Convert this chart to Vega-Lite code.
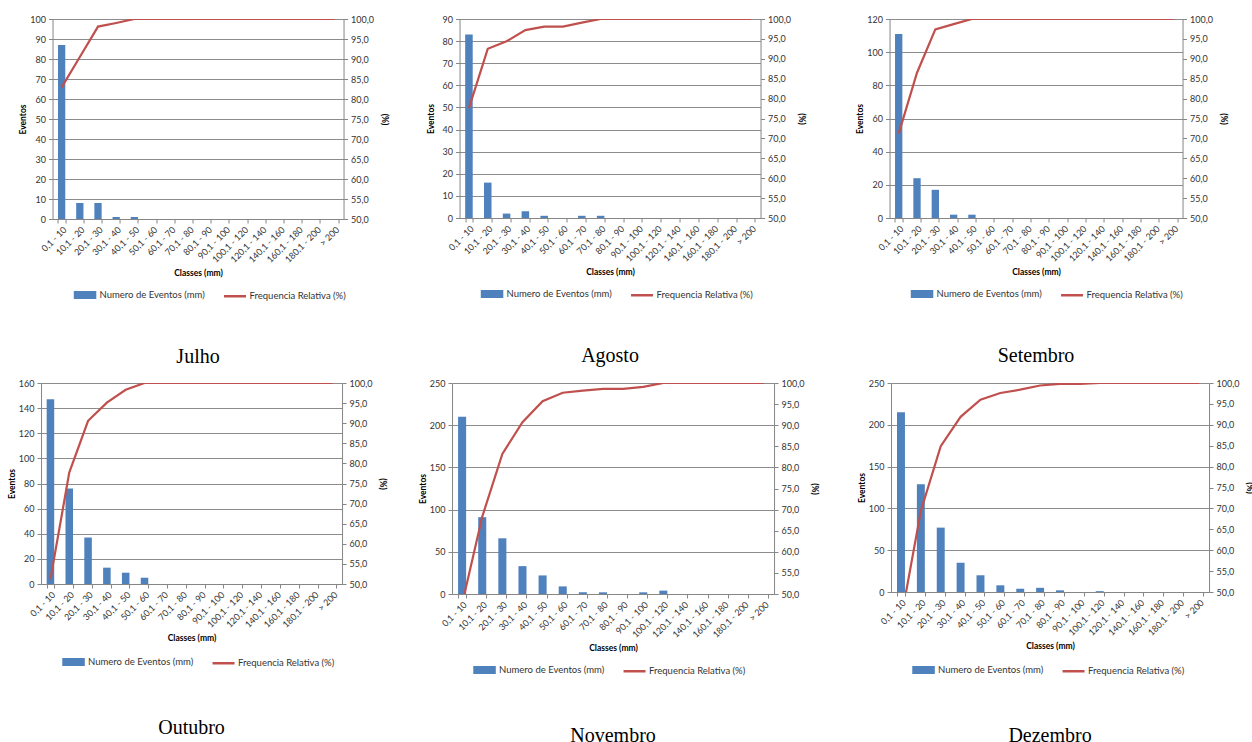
{
"$schema": "https://vega.github.io/schema/vega-lite/v6.json",
"padding": {"left": 7, "top": 15, "right": 0, "bottom": 0},
"background": "white",
"data": {"values": [
{"mes":"Julho","classe":"0,1 - 10","eventos":87,"freq":82.9},
{"mes":"Julho","classe":"10,1 - 20","eventos":8,"freq":90.5},
{"mes":"Julho","classe":"20,1 - 30","eventos":8,"freq":98.1},
{"mes":"Julho","classe":"30,1 - 40","eventos":1,"freq":99.0},
{"mes":"Julho","classe":"40,1 - 50","eventos":1,"freq":100},
{"mes":"Julho","classe":"50,1 - 60","eventos":0,"freq":100},
{"mes":"Julho","classe":"60,1 - 70","eventos":0,"freq":100},
{"mes":"Julho","classe":"70,1 - 80","eventos":0,"freq":100},
{"mes":"Julho","classe":"80,1 - 90","eventos":0,"freq":100},
{"mes":"Julho","classe":"90,1 - 100","eventos":0,"freq":100},
{"mes":"Julho","classe":"100,1 - 120","eventos":0,"freq":100},
{"mes":"Julho","classe":"120,1 - 140","eventos":0,"freq":100},
{"mes":"Julho","classe":"140,1 - 160","eventos":0,"freq":100},
{"mes":"Julho","classe":"160,1 - 180","eventos":0,"freq":100},
{"mes":"Julho","classe":"180,1 - 200","eventos":0,"freq":100},
{"mes":"Julho","classe":"> 200","eventos":0,"freq":100},
{"mes":"Agosto","classe":"0,1 - 10","eventos":83,"freq":77.6},
{"mes":"Agosto","classe":"10,1 - 20","eventos":16,"freq":92.5},
{"mes":"Agosto","classe":"20,1 - 30","eventos":2,"freq":94.4},
{"mes":"Agosto","classe":"30,1 - 40","eventos":3,"freq":97.2},
{"mes":"Agosto","classe":"40,1 - 50","eventos":1,"freq":98.1},
{"mes":"Agosto","classe":"50,1 - 60","eventos":0,"freq":98.1},
{"mes":"Agosto","classe":"60,1 - 70","eventos":1,"freq":99.1},
{"mes":"Agosto","classe":"70,1 - 80","eventos":1,"freq":100},
{"mes":"Agosto","classe":"80,1 - 90","eventos":0,"freq":100},
{"mes":"Agosto","classe":"90,1 - 100","eventos":0,"freq":100},
{"mes":"Agosto","classe":"100,1 - 120","eventos":0,"freq":100},
{"mes":"Agosto","classe":"120,1 - 140","eventos":0,"freq":100},
{"mes":"Agosto","classe":"140,1 - 160","eventos":0,"freq":100},
{"mes":"Agosto","classe":"160,1 - 180","eventos":0,"freq":100},
{"mes":"Agosto","classe":"180,1 - 200","eventos":0,"freq":100},
{"mes":"Agosto","classe":"> 200","eventos":0,"freq":100},
{"mes":"Setembro","classe":"0,1 - 10","eventos":111,"freq":71.2},
{"mes":"Setembro","classe":"10,1 - 20","eventos":24,"freq":86.5},
{"mes":"Setembro","classe":"20,1 - 30","eventos":17,"freq":97.4},
{"mes":"Setembro","classe":"30,1 - 40","eventos":2,"freq":98.7},
{"mes":"Setembro","classe":"40,1 - 50","eventos":2,"freq":100},
{"mes":"Setembro","classe":"50,1 - 60","eventos":0,"freq":100},
{"mes":"Setembro","classe":"60,1 - 70","eventos":0,"freq":100},
{"mes":"Setembro","classe":"70,1 - 80","eventos":0,"freq":100},
{"mes":"Setembro","classe":"80,1 - 90","eventos":0,"freq":100},
{"mes":"Setembro","classe":"90,1 - 100","eventos":0,"freq":100},
{"mes":"Setembro","classe":"100,1 - 120","eventos":0,"freq":100},
{"mes":"Setembro","classe":"120,1 - 140","eventos":0,"freq":100},
{"mes":"Setembro","classe":"140,1 - 160","eventos":0,"freq":100},
{"mes":"Setembro","classe":"160,1 - 180","eventos":0,"freq":100},
{"mes":"Setembro","classe":"180,1 - 200","eventos":0,"freq":100},
{"mes":"Setembro","classe":"> 200","eventos":0,"freq":100},
{"mes":"Outubro","classe":"0,1 - 10","eventos":147,"freq":51.2},
{"mes":"Outubro","classe":"10,1 - 20","eventos":76,"freq":77.7},
{"mes":"Outubro","classe":"20,1 - 30","eventos":37,"freq":90.6},
{"mes":"Outubro","classe":"30,1 - 40","eventos":13,"freq":95.1},
{"mes":"Outubro","classe":"40,1 - 50","eventos":9,"freq":98.3},
{"mes":"Outubro","classe":"50,1 - 60","eventos":5,"freq":100},
{"mes":"Outubro","classe":"60,1 - 70","eventos":0,"freq":100},
{"mes":"Outubro","classe":"70,1 - 80","eventos":0,"freq":100},
{"mes":"Outubro","classe":"80,1 - 90","eventos":0,"freq":100},
{"mes":"Outubro","classe":"90,1 - 100","eventos":0,"freq":100},
{"mes":"Outubro","classe":"100,1 - 120","eventos":0,"freq":100},
{"mes":"Outubro","classe":"120,1 - 140","eventos":0,"freq":100},
{"mes":"Outubro","classe":"140,1 - 160","eventos":0,"freq":100},
{"mes":"Outubro","classe":"160,1 - 180","eventos":0,"freq":100},
{"mes":"Outubro","classe":"180,1 - 200","eventos":0,"freq":100},
{"mes":"Outubro","classe":"> 200","eventos":0,"freq":100},
{"mes":"Novembro","classe":"0,1 - 10","eventos":210,"freq":47.6},
{"mes":"Novembro","classe":"10,1 - 20","eventos":91,"freq":68.3},
{"mes":"Novembro","classe":"20,1 - 30","eventos":66,"freq":83.2},
{"mes":"Novembro","classe":"30,1 - 40","eventos":33,"freq":90.7},
{"mes":"Novembro","classe":"40,1 - 50","eventos":22,"freq":95.7},
{"mes":"Novembro","classe":"50,1 - 60","eventos":9,"freq":97.7},
{"mes":"Novembro","classe":"60,1 - 70","eventos":2,"freq":98.2},
{"mes":"Novembro","classe":"70,1 - 80","eventos":2,"freq":98.6},
{"mes":"Novembro","classe":"80,1 - 90","eventos":0,"freq":98.6},
{"mes":"Novembro","classe":"90,1 - 100","eventos":2,"freq":99.1},
{"mes":"Novembro","classe":"100,1 - 120","eventos":4,"freq":100},
{"mes":"Novembro","classe":"120,1 - 140","eventos":0,"freq":100},
{"mes":"Novembro","classe":"140,1 - 160","eventos":0,"freq":100},
{"mes":"Novembro","classe":"160,1 - 180","eventos":0,"freq":100},
{"mes":"Novembro","classe":"180,1 - 200","eventos":0,"freq":100},
{"mes":"Novembro","classe":"> 200","eventos":0,"freq":100},
{"mes":"Dezembro","classe":"0,1 - 10","eventos":215,"freq":43.3},
{"mes":"Dezembro","classe":"10,1 - 20","eventos":129,"freq":69.4},
{"mes":"Dezembro","classe":"20,1 - 30","eventos":77,"freq":84.9},
{"mes":"Dezembro","classe":"30,1 - 40","eventos":35,"freq":91.9},
{"mes":"Dezembro","classe":"40,1 - 50","eventos":20,"freq":96.0},
{"mes":"Dezembro","classe":"50,1 - 60","eventos":8,"freq":97.6},
{"mes":"Dezembro","classe":"60,1 - 70","eventos":4,"freq":98.4},
{"mes":"Dezembro","classe":"70,1 - 80","eventos":5,"freq":99.4},
{"mes":"Dezembro","classe":"80,1 - 90","eventos":2,"freq":99.8},
{"mes":"Dezembro","classe":"90,1 - 100","eventos":0,"freq":99.8},
{"mes":"Dezembro","classe":"100,1 - 120","eventos":1,"freq":100},
{"mes":"Dezembro","classe":"120,1 - 140","eventos":0,"freq":100},
{"mes":"Dezembro","classe":"140,1 - 160","eventos":0,"freq":100},
{"mes":"Dezembro","classe":"160,1 - 180","eventos":0,"freq":100},
{"mes":"Dezembro","classe":"180,1 - 200","eventos":0,"freq":100},
{"mes":"Dezembro","classe":"> 200","eventos":0,"freq":100}
]},
"vconcat": [
{"hconcat": [
{"width": 291, "height": 200, "title": {"text": "Julho"},
 "transform": [{"filter": "datum.mes == 'Julho'"}],
 "layer": [
  {"mark": {"type": "bar"},
   "encoding": {
    "x": {"field": "classe", "type": "nominal", "sort": null, "scale": {"paddingInner": 0.6, "paddingOuter": 0.3}, "axis": {"title": "Classes (mm)"}},
    "y": {"field": "eventos", "type": "quantitative", "scale": {"domain": [0, 100], "nice": false}, "axis": {"title": "Eventos", "values": [0,10,20,30,40,50,60,70,80,90,100], "grid": true}},
    "color": {"datum": "Numero de Eventos (mm)", "scale": {"domain": ["Numero de Eventos (mm)", "Frequencia Relativa (%)"], "range": ["#4f81bd", "#c0504d"]},
     "legend": {"direction": "horizontal", "columnPadding": 13, "symbolSize": 484, "padding": 20, "offset": -15,
      "encode": {"symbols": {"update": {
        "shape": {"signal": "datum.value === 'Numero de Eventos (mm)' ? 'M-0.91,-0.25H0.91V0.25H-0.91Z' : 'stroke'"},
        "fill": {"signal": "datum.value === 'Numero de Eventos (mm)' ? '#4f81bd' : 'transparent'"},
        "stroke": {"signal": "datum.value === 'Numero de Eventos (mm)' ? 'transparent' : '#c0504d'"},
        "strokeWidth": {"value": 2.5}, "opacity": {"value": 1}}}}}}}},
  {"mark": {"type": "line", "clip": true},
   "encoding": {
    "x": {"field": "classe", "type": "nominal", "sort": null},
    "y": {"field": "freq", "type": "quantitative", "scale": {"domain": [50, 100], "nice": false}, "axis": {"title": "(%)", "orient": "right", "grid": false, "values": [50,55,60,65,70,75,80,85,90,95,100], "labelExpr": "replace(format(datum.value, '.1f'), '.', ',')"}},
    "color": {"datum": "Frequencia Relativa (%)"}}}
 ],
 "resolve": {"scale": {"y": "independent"}}},
{"hconcat": [
{"width": 301, "height": 199, "title": {"text": "Agosto"},
 "transform": [{"filter": "datum.mes == 'Agosto'"}],
 "layer": [
  {"mark": {"type": "bar"},
   "encoding": {
    "x": {"field": "classe", "type": "nominal", "sort": null, "scale": {"paddingInner": 0.6, "paddingOuter": 0.3}, "axis": {"title": "Classes (mm)"}},
    "y": {"field": "eventos", "type": "quantitative", "scale": {"domain": [0, 90], "nice": false}, "axis": {"title": "Eventos", "values": [0,10,20,30,40,50,60,70,80,90], "grid": true}},
    "color": {"datum": "Numero de Eventos (mm)", "scale": {"domain": ["Numero de Eventos (mm)", "Frequencia Relativa (%)"], "range": ["#4f81bd", "#c0504d"]},
     "legend": {"direction": "horizontal", "columnPadding": 13, "symbolSize": 484, "padding": 20, "offset": -15,
      "encode": {"symbols": {"update": {
        "shape": {"signal": "datum.value === 'Numero de Eventos (mm)' ? 'M-0.91,-0.25H0.91V0.25H-0.91Z' : 'stroke'"},
        "fill": {"signal": "datum.value === 'Numero de Eventos (mm)' ? '#4f81bd' : 'transparent'"},
        "stroke": {"signal": "datum.value === 'Numero de Eventos (mm)' ? 'transparent' : '#c0504d'"},
        "strokeWidth": {"value": 2.5}, "opacity": {"value": 1}}}}}}}},
  {"mark": {"type": "line", "clip": true},
   "encoding": {
    "x": {"field": "classe", "type": "nominal", "sort": null},
    "y": {"field": "freq", "type": "quantitative", "scale": {"domain": [50, 100], "nice": false}, "axis": {"title": "(%)", "orient": "right", "grid": false, "values": [50,55,60,65,70,75,80,85,90,95,100], "labelExpr": "replace(format(datum.value, '.1f'), '.', ',')"}},
    "color": {"datum": "Frequencia Relativa (%)"}}}
 ],
 "resolve": {"scale": {"y": "independent"}}},
{"width": 293, "height": 199, "title": {"text": "Setembro"},
 "transform": [{"filter": "datum.mes == 'Setembro'"}],
 "layer": [
  {"mark": {"type": "bar"},
   "encoding": {
    "x": {"field": "classe", "type": "nominal", "sort": null, "scale": {"paddingInner": 0.6, "paddingOuter": 0.3}, "axis": {"title": "Classes (mm)"}},
    "y": {"field": "eventos", "type": "quantitative", "scale": {"domain": [0, 120], "nice": false}, "axis": {"title": "Eventos", "values": [0,20,40,60,80,100,120], "grid": true}},
    "color": {"datum": "Numero de Eventos (mm)", "scale": {"domain": ["Numero de Eventos (mm)", "Frequencia Relativa (%)"], "range": ["#4f81bd", "#c0504d"]},
     "legend": {"direction": "horizontal", "columnPadding": 13, "symbolSize": 484, "padding": 20, "offset": -15,
      "encode": {"symbols": {"update": {
        "shape": {"signal": "datum.value === 'Numero de Eventos (mm)' ? 'M-0.91,-0.25H0.91V0.25H-0.91Z' : 'stroke'"},
        "fill": {"signal": "datum.value === 'Numero de Eventos (mm)' ? '#4f81bd' : 'transparent'"},
        "stroke": {"signal": "datum.value === 'Numero de Eventos (mm)' ? 'transparent' : '#c0504d'"},
        "strokeWidth": {"value": 2.5}, "opacity": {"value": 1}}}}}}}},
  {"mark": {"type": "line", "clip": true},
   "encoding": {
    "x": {"field": "classe", "type": "nominal", "sort": null},
    "y": {"field": "freq", "type": "quantitative", "scale": {"domain": [50, 100], "nice": false}, "axis": {"title": ["", "(%)"], "titleLineHeight": 15, "orient": "right", "grid": false, "values": [50,55,60,65,70,75,80,85,90,95,100], "labelExpr": "replace(format(datum.value, '.1f'), '.', ',')"}},
    "color": {"datum": "Frequencia Relativa (%)"}}}
 ],
 "resolve": {"scale": {"y": "independent"}}}
], "spacing": 50, "resolve": {"scale": {"color": "independent"}, "legend": {"color": "independent"}}}
], "spacing": 38, "resolve": {"scale": {"color": "independent"}, "legend": {"color": "independent"}}},
{"hconcat": [
{"width": 301, "height": 201, "title": {"text": "Outubro", "offset": 28},
 "transform": [{"filter": "datum.mes == 'Outubro'"}],
 "layer": [
  {"mark": {"type": "bar"},
   "encoding": {
    "x": {"field": "classe", "type": "nominal", "sort": null, "scale": {"paddingInner": 0.6, "paddingOuter": 0.3}, "axis": {"title": "Classes (mm)"}},
    "y": {"field": "eventos", "type": "quantitative", "scale": {"domain": [0, 160], "nice": false}, "axis": {"title": "Eventos", "values": [0,20,40,60,80,100,120,140,160], "grid": true}},
    "color": {"datum": "Numero de Eventos (mm)", "scale": {"domain": ["Numero de Eventos (mm)", "Frequencia Relativa (%)"], "range": ["#4f81bd", "#c0504d"]},
     "legend": {"direction": "horizontal", "columnPadding": 13, "symbolSize": 484, "padding": 20, "offset": -13,
      "encode": {"symbols": {"update": {
        "shape": {"signal": "datum.value === 'Numero de Eventos (mm)' ? 'M-0.91,-0.25H0.91V0.25H-0.91Z' : 'stroke'"},
        "fill": {"signal": "datum.value === 'Numero de Eventos (mm)' ? '#4f81bd' : 'transparent'"},
        "stroke": {"signal": "datum.value === 'Numero de Eventos (mm)' ? 'transparent' : '#c0504d'"},
        "strokeWidth": {"value": 2.5}, "opacity": {"value": 1}}}}}}}},
  {"mark": {"type": "line", "clip": true},
   "encoding": {
    "x": {"field": "classe", "type": "nominal", "sort": null},
    "y": {"field": "freq", "type": "quantitative", "scale": {"domain": [50, 100], "nice": false}, "axis": {"title": "(%)", "orient": "right", "grid": false, "values": [50,55,60,65,70,75,80,85,90,95,100], "labelExpr": "replace(format(datum.value, '.1f'), '.', ',')"}},
    "color": {"datum": "Frequencia Relativa (%)"}}}
 ],
 "resolve": {"scale": {"y": "independent"}}},
{"hconcat": [
{"width": 322, "height": 211, "title": {"text": "Novembro", "offset": 28},
 "transform": [{"filter": "datum.mes == 'Novembro'"}],
 "layer": [
  {"mark": {"type": "bar"},
   "encoding": {
    "x": {"field": "classe", "type": "nominal", "sort": null, "scale": {"paddingInner": 0.6, "paddingOuter": 0.3}, "axis": {"title": "Classes (mm)"}},
    "y": {"field": "eventos", "type": "quantitative", "scale": {"domain": [0, 250], "nice": false}, "axis": {"title": "Eventos", "values": [0,50,100,150,200,250], "grid": true}},
    "color": {"datum": "Numero de Eventos (mm)", "scale": {"domain": ["Numero de Eventos (mm)", "Frequencia Relativa (%)"], "range": ["#4f81bd", "#c0504d"]},
     "legend": {"direction": "horizontal", "columnPadding": 13, "symbolSize": 484, "padding": 20, "offset": -15,
      "encode": {"symbols": {"update": {
        "shape": {"signal": "datum.value === 'Numero de Eventos (mm)' ? 'M-0.91,-0.25H0.91V0.25H-0.91Z' : 'stroke'"},
        "fill": {"signal": "datum.value === 'Numero de Eventos (mm)' ? '#4f81bd' : 'transparent'"},
        "stroke": {"signal": "datum.value === 'Numero de Eventos (mm)' ? 'transparent' : '#c0504d'"},
        "strokeWidth": {"value": 2.5}, "opacity": {"value": 1}}}}}}}},
  {"mark": {"type": "line", "clip": true},
   "encoding": {
    "x": {"field": "classe", "type": "nominal", "sort": null},
    "y": {"field": "freq", "type": "quantitative", "scale": {"domain": [50, 100], "nice": false}, "axis": {"title": "(%)", "orient": "right", "grid": false, "values": [50,55,60,65,70,75,80,85,90,95,100], "labelExpr": "replace(format(datum.value, '.1f'), '.', ',')"}},
    "color": {"datum": "Frequencia Relativa (%)"}}}
 ],
 "resolve": {"scale": {"y": "independent"}}},
{"width": 318, "height": 209, "title": {"text": "Dezembro", "offset": 28},
 "transform": [{"filter": "datum.mes == 'Dezembro'"}],
 "layer": [
  {"mark": {"type": "bar"},
   "encoding": {
    "x": {"field": "classe", "type": "nominal", "sort": null, "scale": {"paddingInner": 0.6, "paddingOuter": 0.3}, "axis": {"title": "Classes (mm)"}},
    "y": {"field": "eventos", "type": "quantitative", "scale": {"domain": [0, 250], "nice": false}, "axis": {"title": "Eventos", "values": [0,50,100,150,200,250], "grid": true}},
    "color": {"datum": "Numero de Eventos (mm)", "scale": {"domain": ["Numero de Eventos (mm)", "Frequencia Relativa (%)"], "range": ["#4f81bd", "#c0504d"]},
     "legend": {"direction": "horizontal", "columnPadding": 13, "symbolSize": 484, "padding": 20, "offset": -13,
      "encode": {"symbols": {"update": {
        "shape": {"signal": "datum.value === 'Numero de Eventos (mm)' ? 'M-0.91,-0.25H0.91V0.25H-0.91Z' : 'stroke'"},
        "fill": {"signal": "datum.value === 'Numero de Eventos (mm)' ? '#4f81bd' : 'transparent'"},
        "stroke": {"signal": "datum.value === 'Numero de Eventos (mm)' ? 'transparent' : '#c0504d'"},
        "strokeWidth": {"value": 2.5}, "opacity": {"value": 1}}}}}}}},
  {"mark": {"type": "line", "clip": true},
   "encoding": {
    "x": {"field": "classe", "type": "nominal", "sort": null},
    "y": {"field": "freq", "type": "quantitative", "scale": {"domain": [50, 100], "nice": false}, "axis": {"title": "(%)", "orient": "right", "grid": false, "values": [50,55,60,65,70,75,80,85,90,95,100], "labelExpr": "replace(format(datum.value, '.1f'), '.', ',')"}},
    "color": {"datum": "Frequencia Relativa (%)"}}}
 ],
 "resolve": {"scale": {"y": "independent"}}}
], "spacing": 38, "resolve": {"scale": {"color": "independent"}, "legend": {"color": "independent"}}}
], "spacing": 31, "resolve": {"scale": {"color": "independent"}, "legend": {"color": "independent"}}}
],
"center": true,
"spacing": 12,
"resolve": {"scale": {"color": "independent"}, "legend": {"color": "independent"}},
"config": {
 "view": {"stroke": null},
 "font": "Lato",
 "axis": {"labelFont": "Lato", "titleFont": "Lato", "labelColor": "#333333", "titleColor": "#000000", "labelFontSize": 9, "titleFontSize": 8.5, "titleFontWeight": "bold", "domainColor": "#868686", "tickColor": "#868686", "gridColor": "#8c8c8c", "gridOpacity": 1, "tickSize": 4, "labelPadding": 3},
 "axisX": {"labelAngle": -45, "labelAlign": "right", "labelBaseline": "top", "labelFontSize": 9, "tickBand": "extent", "labelPadding": 2, "titlePadding": 4, "grid": false},
 "axisLeft": {"minExtent": 22, "titlePadding": 2},
 "axisRight": {"titlePadding": 6},
 "legend": {"orient": "bottom", "title": null, "labelFont": "Lato", "labelFontSize": 9.5, "labelColor": "#333333", "labelOffset": 2},
 "title": {"orient": "bottom", "font": "Liberation Serif", "fontSize": 20, "fontWeight": "normal", "color": "#000000", "anchor": "middle", "offset": 24},
 "line": {"strokeWidth": 2.2}
}
}
